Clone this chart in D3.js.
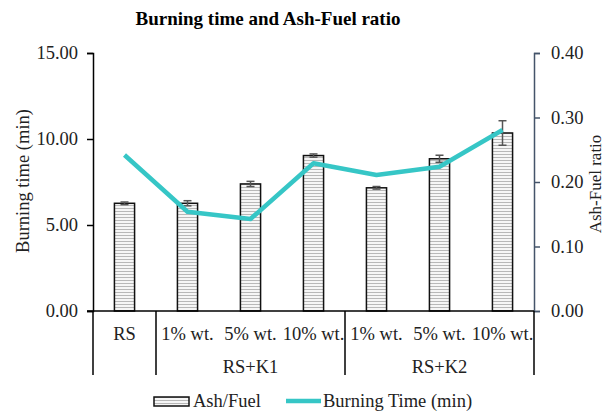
<!DOCTYPE html>
<html>
<head>
<meta charset="utf-8">
<script src="https://cdn.jsdelivr.net/npm/d3@7"></script>
<style>
  body { margin: 0; background: #fff; }
  svg text { font-family: "Liberation Serif", "Times New Roman", Times, serif; }
</style>
</head>
<body>
<div id="chart"></div>
<script>
const categories = ["RS", "RS+K1 1%", "RS+K1 5%", "RS+K1 10%", "RS+K2 1%", "RS+K2 5%", "RS+K2 10%"];
const catLabels = ["RS", "1% wt.", "5% wt.", "10% wt.", "1% wt.", "5% wt.", "10% wt."];
const groups = [
  { name: "RS+K1", from: 1, to: 3 },
  { name: "RS+K2", from: 4, to: 6 }
];
const ashFuel = [0.167, 0.167, 0.197, 0.241, 0.191, 0.236, 0.276];
const ashFuelErr = [0.002, 0.004, 0.004, 0.0025, 0.002, 0.0055, 0.019];
const burningTime = [9.07, 5.77, 5.35, 8.59, 7.91, 8.39, 10.52];
const leftTicks = [0, 5, 10, 15];
const rightTicks = [0, 0.1, 0.2, 0.3, 0.4];

const width = 606, height = 414;
const m = { left: 93, right: 72, top: 53, bottom: 103 };
const x0 = m.left, x1 = width - m.right;
const yTop = m.top, yBot = height - m.bottom;
const fs = 18.5;

const svg = d3.select("#chart").append("svg")
  .attr("width", width).attr("height", height);

const defs = svg.append("defs");
const pat = defs.append("pattern")
  .attr("id", "stripes").attr("patternUnits", "userSpaceOnUse")
  .attr("width", 6).attr("height", 3);
pat.append("rect").attr("width", 6).attr("height", 3).attr("fill", "#f6f6f6");
pat.append("rect").attr("y", 1).attr("width", 6).attr("height", 1).attr("fill", "#b8b8b8");

const x = d3.scaleBand().domain(categories).range([x0, x1])
  .paddingInner(0.68).paddingOuter(0.34);
const yL = d3.scaleLinear().domain([0, 15]).range([yBot, yTop]);
const yR = d3.scaleLinear().domain([0, 0.4]).range([yBot, yTop]);

// title
svg.append("text").attr("x", 268).attr("y", 25)
  .attr("text-anchor", "middle").attr("font-weight", "bold")
  .attr("font-size", 19).text("Burning time and Ash-Fuel ratio");

// left axis
const gL = svg.append("g").attr("transform", `translate(${x0},0)`)
  .call(d3.axisLeft(yL).tickValues(leftTicks).tickFormat(d3.format(".2f")).tickSizeOuter(0).tickSize(6));
gL.select(".domain").attr("stroke", "#000").attr("stroke-width", 1.5);
gL.selectAll(".tick line").attr("stroke", "#000").attr("stroke-width", 1.5);
gL.selectAll(".tick text").attr("font-size", fs).attr("fill", "#222").attr("x", -15);

// right axis
const gR = svg.append("g").attr("transform", `translate(${x1},0)`)
  .call(d3.axisRight(yR).tickValues(rightTicks).tickFormat(d3.format(".2f")).tickSizeOuter(0).tickSize(6));
gR.select(".domain").attr("stroke", "#44546A").attr("stroke-width", 1.5);
gR.selectAll(".tick line").attr("stroke", "#44546A").attr("stroke-width", 1.5);
gR.selectAll(".tick text").attr("font-size", fs).attr("fill", "#222").attr("x", 17);

// axis titles
svg.append("text").attr("transform", `translate(29,181) rotate(-90)`)
  .attr("text-anchor", "middle").attr("font-size", fs).attr("fill", "#222")
  .text("Burning time (min)");
svg.append("text").attr("transform", `translate(601,184) rotate(-90)`)
  .attr("text-anchor", "middle").attr("font-size", 17).attr("fill", "#222")
  .text("Ash-Fuel ratio");

// bars
svg.append("g").selectAll("rect").data(categories).join("rect")
  .attr("x", d => x(d)).attr("width", x.bandwidth())
  .attr("y", (d, i) => yR(ashFuel[i]))
  .attr("height", (d, i) => yBot - yR(ashFuel[i]))
  .attr("fill", "url(#stripes)").attr("stroke", "#111").attr("stroke-width", 1.5);

// error bars
const eb = svg.append("g").attr("stroke", "#555").attr("stroke-width", 1.5);
categories.forEach((c, i) => {
  const cx = x(c) + x.bandwidth() / 2;
  const hi = yR(ashFuel[i] + ashFuelErr[i]), lo = yR(ashFuel[i] - ashFuelErr[i]);
  eb.append("line").attr("x1", cx).attr("x2", cx).attr("y1", hi).attr("y2", lo);
  eb.append("line").attr("x1", cx - 4).attr("x2", cx + 4).attr("y1", hi).attr("y2", hi);
  eb.append("line").attr("x1", cx - 4).attr("x2", cx + 4).attr("y1", lo).attr("y2", lo);
});

// line
const line = d3.line()
  .x((d, i) => x(categories[i]) + x.bandwidth() / 2)
  .y(d => yL(d));
svg.append("path").datum(burningTime)
  .attr("d", line).attr("fill", "none")
  .attr("stroke", "#36C6C6").attr("stroke-width", 4.5).attr("stroke-linejoin", "round");

// x baseline and category dividers
const gx = svg.append("g").attr("stroke", "#000").attr("stroke-width", 1.5);
gx.append("line").attr("x1", x0 - 6).attr("x2", x1).attr("y1", yBot).attr("y2", yBot);
const step = x.step();
const dividers = [x0, x0 + step, x0 + step * 4, x1];
dividers.forEach(d => {
  gx.append("line").attr("x1", d).attr("x2", d).attr("y1", yBot).attr("y2", 375);
});

svg.append("g").selectAll("text").data(categories).join("text")
  .attr("x", d => x(d) + x.bandwidth() / 2).attr("y", 340)
  .attr("text-anchor", "middle").attr("font-size", fs).attr("fill", "#222")
  .text((d, i) => catLabels[i]);

svg.append("g").selectAll("text").data(groups).join("text")
  .attr("x", g => (x(categories[g.from]) + x(categories[g.to]) + x.bandwidth()) / 2)
  .attr("y", 373).attr("text-anchor", "middle").attr("font-size", fs).attr("fill", "#222")
  .text(g => g.name);

// legend
const lg = svg.append("g");
lg.append("rect").attr("x", 154).attr("y", 397).attr("width", 35).attr("height", 9)
  .attr("fill", "url(#stripes)").attr("stroke", "#111").attr("stroke-width", 1.5);
lg.append("text").attr("x", 193).attr("y", 407).attr("font-size", fs).attr("fill", "#222").text("Ash/Fuel");
lg.append("line").attr("x1", 286).attr("x2", 321).attr("y1", 401).attr("y2", 401)
  .attr("stroke", "#36C6C6").attr("stroke-width", 4.5);
lg.append("text").attr("x", 323).attr("y", 407).attr("font-size", fs).attr("fill", "#222").text("Burning Time (min)");
</script>
</body>
</html>
